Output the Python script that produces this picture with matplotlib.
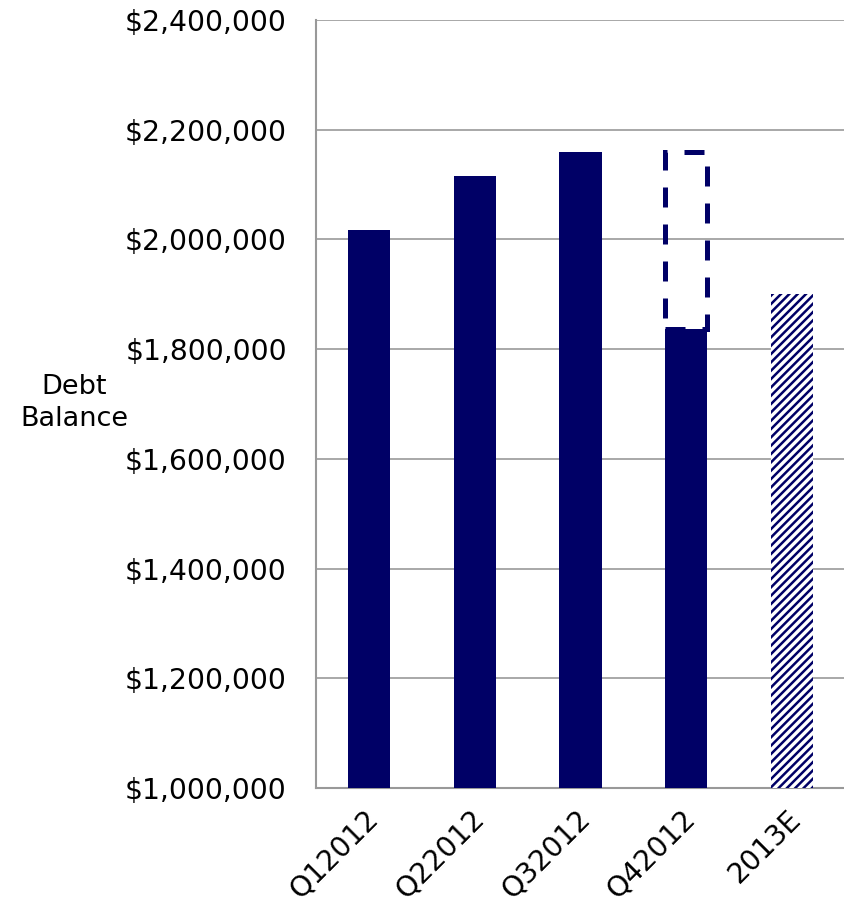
import matplotlib.pyplot as plt
import matplotlib.transforms as mtransforms
from matplotlib.ticker import FuncFormatter

# -------------------------------
# Data
# -------------------------------

periods = ['Q12012', 'Q22012', 'Q32012', 'Q42012', '2013E']
actual_balance = [2017000, 2116000, 2160000, 1837000]
estimate_balance = 1900000
# Q4 shortfall vs. previous quarter, shown as a dashed outline
previous_peak = 2160000

navy = '#000066'
grid_grey = '#999999'

plt.rcParams['font.family'] = 'DejaVu Sans'
plt.rcParams['hatch.linewidth'] = 1.8
plt.rcParams['hatch.color'] = navy

# -------------------------------
# Figure
# -------------------------------

fig = plt.figure(figsize=(8.45, 9.06), dpi=100)
ax = fig.add_axes([0.374, 0.130, 0.626, 0.848])

x = list(range(len(periods)))
bar_width = 0.4

ax.bar(x[:4], actual_balance, width=bar_width, color=navy, zorder=3)
ax.bar(x[4], estimate_balance, width=bar_width, color='white',
       edgecolor=navy, linewidth=0, hatch='////', zorder=3)

# dashed outline from Q4 value up to the prior quarter
ax.bar(x[3], previous_peak - actual_balance[3], bottom=actual_balance[3],
       width=bar_width, fill=False, edgecolor=navy, linewidth=3.6,
       linestyle=(0, (4, 3.4)), zorder=2)

# -------------------------------
# Axes styling
# -------------------------------

ax.set_ylim(1000000, 2400000)
ax.set_xlim(-0.5, 4.5)
ax.set_yticks(range(1000000, 2400001, 200000))
ax.yaxis.set_major_formatter(FuncFormatter(lambda v, p: '${:,.0f}'.format(v)))

ax.set_xticks(x)
ax.set_xticklabels(periods, rotation=45, ha='right', va='center',
                   rotation_mode='anchor')

ax.tick_params(axis='both', length=0, labelsize=20.3)
ax.tick_params(axis='y', pad=21)
ax.tick_params(axis='x', pad=19)

# nudge the slanted labels a little to the right
shift = mtransforms.ScaledTranslation(0.05, 0, fig.dpi_scale_trans)
for label in ax.get_xticklabels():
    label.set_transform(label.get_transform() + shift)

ax.grid(axis='y', color=grid_grey, linewidth=1.2, zorder=0)
ax.set_axisbelow(True)

for side in ['top', 'right']:
    ax.spines[side].set_visible(False)
for side in ['left', 'bottom']:
    ax.spines[side].set_color(grid_grey)
    ax.spines[side].set_linewidth(1.5)

ax.set_ylabel('Debt\nBalance', rotation=0, fontsize=19.5, ha='center',
              va='center', linespacing=1.3)
ax.yaxis.set_label_coords(-0.457, 0.501)

plt.savefig('out.png', dpi=100)
